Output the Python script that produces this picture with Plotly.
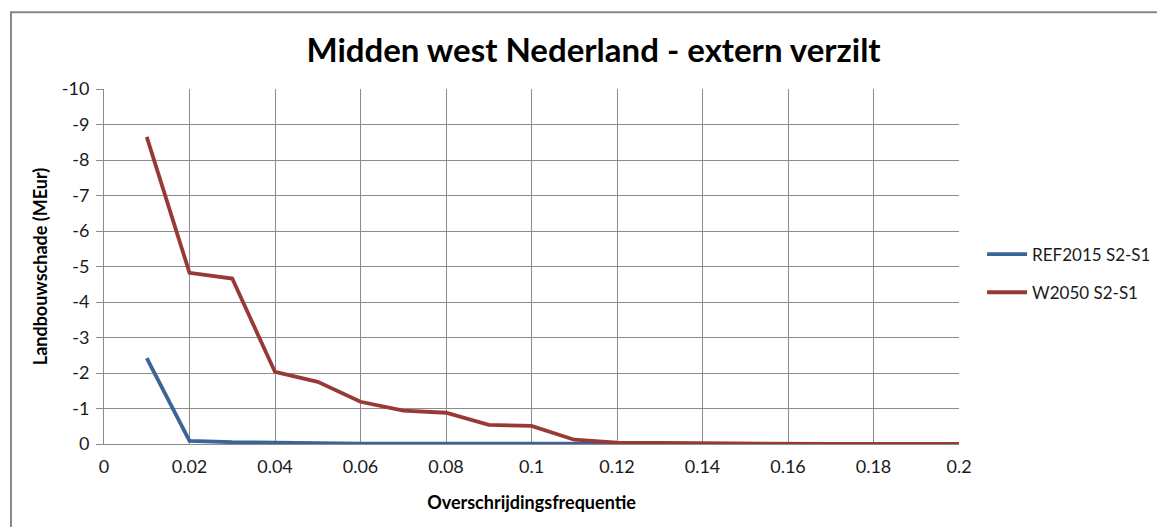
import plotly.graph_objects as go

# Exceedance frequency (x) and agricultural damage in MEur (y, negative = loss)
freq = [0.01, 0.02, 0.03, 0.04, 0.05, 0.06, 0.07, 0.08, 0.09, 0.10,
        0.11, 0.12, 0.13, 0.14, 0.15, 0.16, 0.17, 0.18, 0.19, 0.20]
ref2015 = [-2.42, -0.09, -0.05, -0.03, -0.02, -0.01, -0.01, -0.01, -0.01, -0.01,
           -0.01, 0.0, 0.0, 0.0, 0.0, 0.0, 0.0, 0.0, 0.0, 0.0]
w2050 = [-8.65, -4.82, -4.66, -2.03, -1.75, -1.19, -0.94, -0.88, -0.54, -0.51,
         -0.12, -0.04, -0.03, -0.02, 0.0, 0.0, 0.0, 0.0, 0.0, 0.0]

series_names = ["REF2015 S2-S1", "W2050 S2-S1"]
x_ticks = [0, 0.02, 0.04, 0.06, 0.08, 0.1, 0.12, 0.14, 0.16, 0.18, 0.2]
x_tick_text = ["0", "0.02", "0.04", "0.06", "0.08", "0.1", "0.12", "0.14", "0.16", "0.18", "0.2"]
y_ticks = [0, -1, -2, -3, -4, -5, -6, -7, -8, -9, -10]
y_tick_text = ["0", "-1", "-2", "-3", "-4", "-5", "-6", "-7", "-8", "-9", "-10"]

FONT = "Lato, 'Open Sans', sans-serif"
GRID = "#8c8c8c"

fig = go.Figure()
fig.add_trace(go.Scatter(x=freq, y=ref2015, mode="lines", name=series_names[0],
                         legendgroup="a",
                         line=dict(color="#3b6497", width=3.8)))
fig.add_trace(go.Scatter(x=freq, y=w2050, mode="lines", name=series_names[1],
                         legendgroup="b",
                         line=dict(color="#973a37", width=3.8)))

fig.update_layout(
    width=1157, height=527,
    margin=dict(l=104, r=198, t=89, b=83, autoexpand=False),
    paper_bgcolor="white", plot_bgcolor="white",
    font=dict(family=FONT, color="#1a1a1a", size=18),
    title=dict(text="<b>Midden west Nederland - extern verzilt</b>",
               x=0.513, xanchor="center", y=0.905, yanchor="middle",
               font=dict(family=FONT, size=33, color="black")),
    legend=dict(x=1.027, xanchor="left", y=0.48, yanchor="middle",
                font=dict(family=FONT, size=17, color="#1a1a1a"),
                bgcolor="rgba(0,0,0,0)", tracegroupgap=13, itemwidth=40),
    showlegend=True,
    shapes=[dict(type="rect", xref="paper", yref="paper",
                 x0=-0.1088, x1=1.3, y0=-0.4, y1=1.2165,
                 line=dict(color="#878787", width=2), layer="below")],
)

fig.update_xaxes(
    range=[0, 0.2], tickvals=x_ticks, ticktext=x_tick_text,
    showgrid=True, gridcolor=GRID, gridwidth=1,
    showline=True, linecolor=GRID, linewidth=1,
    ticks="", ticklabelstandoff=6, zeroline=False,
    title=dict(text="<b>Overschrijdingsfrequentie</b>",
               font=dict(family=FONT, size=18, color="black"), standoff=20),
)
fig.update_yaxes(
    range=[0, -10], tickvals=y_ticks, ticktext=y_tick_text,
    showgrid=True, gridcolor=GRID, gridwidth=1,
    showline=True, linecolor=GRID, linewidth=1,
    ticks="outside", ticklen=7, tickcolor=GRID, zeroline=False,
    ticklabelstandoff=3,
    title=dict(text="<b>Landbouwschade (MEur)</b>",
               font=dict(family=FONT, size=18, color="black"), standoff=9),
)

fig.write_html("out.html")
